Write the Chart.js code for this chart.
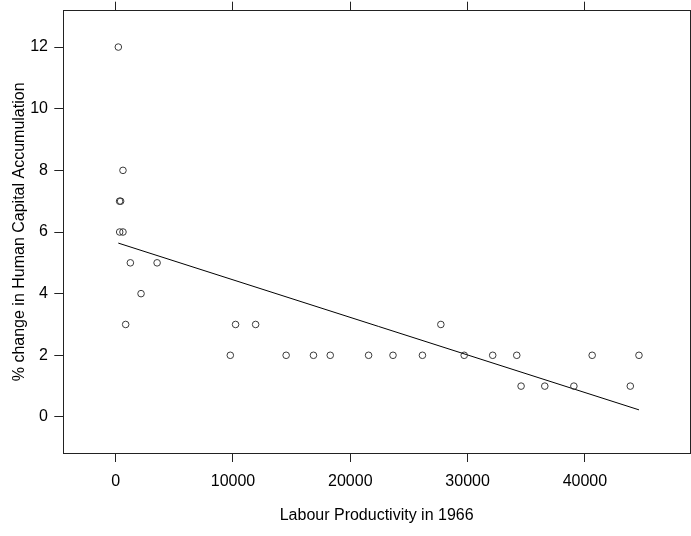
<!DOCTYPE html>
<html>
<head>
<meta charset="utf-8">
<script src="https://cdn.jsdelivr.net/npm/chart.js@4/dist/chart.umd.min.js"></script>
<style>
  html, body { margin: 0; padding: 0; background: #ffffff; }
  #wrap { position: relative; width: 691px; height: 536px; }
</style>
</head>
<body>
<div id="wrap"><canvas id="c"></canvas></div>
<script>
// Data
const productivity = [224, 620, 330, 420, 340, 620, 1250, 3530, 2160, 850, 10220, 11930, 9770, 14530, 16860, 18290, 21560, 23640, 26150, 27720, 29710, 32140, 34190, 34560, 36580, 39060, 40620, 43870, 44610];
const capitalChange = [12, 8, 7, 7, 6, 6, 5, 5, 4, 3, 3, 3, 2, 2, 2, 2, 2, 2, 2, 3, 2, 2, 2, 1, 1, 1, 2, 1, 2];
const fitX = [224, 44610];
const fitY = [5.64, 0.23];
const xTickValues = [0, 10000, 20000, 30000, 40000];
const yTickValues = [0, 2, 4, 6, 8, 10, 12];
const xLabel = 'Labour Productivity in 1966';
const yLabel = '% change in Human Capital Accumulation';

const X_MIN = -4467, X_MAX = 48960;
const Y_MIN = -1.17, Y_MAX = 13.18;

const FONT = 'Liberation Sans, Arial, Helvetica, sans-serif';
const AXIS_COLOR = '#222222';

const points = productivity.map((x, i) => ({ x: x, y: capitalChange[i] }));
const fitLine = fitX.map((x, i) => ({ x: x, y: fitY[i] }));

function setTicks(values) {
  return function (scale) { scale.ticks = values.map(v => ({ value: v })); };
}
function fixSize(prop, value) {
  return function (s) {
    s[prop] = value;
    s.paddingTop = 0; s.paddingBottom = 0; s.paddingLeft = 0; s.paddingRight = 0;
  };
}

const baseGrid = {
  drawOnChartArea: false,
  drawTicks: true,
  tickLength: 9,
  color: AXIS_COLOR,
  lineWidth: 1
};
const baseBorder = { display: true, color: AXIS_COLOR, width: 1 };

new Chart(document.getElementById('c'), {
  type: 'scatter',
  data: {
    datasets: [
      {
        label: 'countries',
        data: points,
        showLine: false,
        pointStyle: 'circle',
        pointRadius: 3.3,
        pointBorderWidth: 1,
        pointBorderColor: '#3a3a3a',
        pointBackgroundColor: 'rgba(0,0,0,0)',
        xAxisID: 'x',
        yAxisID: 'y'
      },
      {
        label: 'fit',
        type: 'line',
        data: fitLine,
        showLine: true,
        borderColor: '#000000',
        borderWidth: 1,
        pointRadius: 0,
        fill: false,
        tension: 0,
        xAxisID: 'x',
        yAxisID: 'y'
      }
    ]
  },
  options: {
    responsive: true,
    maintainAspectRatio: false,
    animation: false,
    devicePixelRatio: 1,
    layout: { padding: 0, autoPadding: false },
    plugins: { legend: { display: false }, tooltip: { enabled: false }, title: { display: false } },
    scales: {
      x: {
        type: 'linear', position: 'bottom', min: X_MIN, max: X_MAX,
        afterBuildTicks: setTicks(xTickValues),
        afterFit: fixSize('height', 83),
        grid: baseGrid, border: baseBorder,
        ticks: { color: '#000', padding: 9.5, maxRotation: 0, font: { family: FONT, size: 16 }, callback: v => String(v) },
        title: { display: true, text: xLabel, color: '#000', font: { family: FONT, size: 16 }, padding: { top: 0, bottom: 11 } }
      },
      x2: {
        type: 'linear', position: 'top', min: X_MIN, max: X_MAX,
        afterBuildTicks: setTicks(xTickValues),
        afterFit: fixSize('height', 10.7),
        grid: baseGrid, border: baseBorder,
        ticks: { display: false }
      },
      y: {
        type: 'linear', position: 'left', min: Y_MIN, max: Y_MAX,
        afterBuildTicks: setTicks(yTickValues),
        afterFit: fixSize('width', 63.3),
        grid: baseGrid, border: baseBorder,
        ticks: { color: '#000', padding: 6.3, font: { family: FONT, size: 16 }, callback: v => String(v) },
        title: { display: true, text: yLabel, color: '#000', font: { family: FONT, size: 16 }, padding: { top: 9.5, bottom: 0 } }
      },
      y2: {
        type: 'linear', position: 'right', min: Y_MIN, max: Y_MAX,
        afterBuildTicks: setTicks(yTickValues),
        afterFit: fixSize('width', 1),
        grid: baseGrid, border: baseBorder,
        ticks: { display: false }
      }
    }
  }
});
</script>
</body>
</html>
